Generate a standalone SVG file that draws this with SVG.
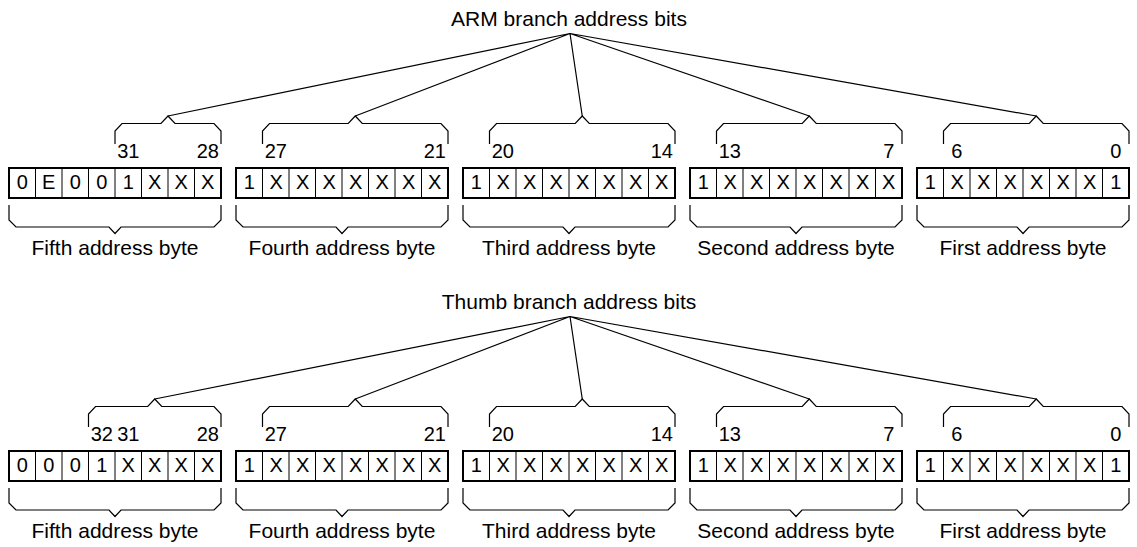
<svg xmlns="http://www.w3.org/2000/svg" xmlns:xlink="http://www.w3.org/1999/xlink" width="1137" height="547" viewBox="0 0 1137 547">
<style>
text{font-family:"Liberation Sans",Arial,sans-serif;fill:#000;text-anchor:middle}
.t{font-size:21px}
.n{font-size:20px}
.c{font-size:20px}
.ln{fill:none;stroke:#000;stroke-width:1.2}
.box{fill:#fff;stroke:#000;stroke-width:2}
.div{fill:none;stroke:#000;stroke-width:1}
</style>
<defs>
<g id="frame">
<rect class="box" x="0" y="0" width="212" height="30"/>
<path class="div" d="M26.5,0V30M53,0V30M79.5,0V30M106,0V30M132.5,0V30M159,0V30M185.5,0V30"/>
<path class="ln" d="M0,37V52L7,59H100L106,65.5L112,59H205L212,52V37"/>
</g>
<path id="brace7" class="ln" d="M26.5,-24V-37L33.5,-44.5H112.25L119.25,-52L126.25,-44.5H205L212,-37V-24"/>
<g id="x7">
<text class="c" x="40.25" y="21">X</text><text class="c" x="66.75" y="21">X</text><text class="c" x="93.25" y="21">X</text><text class="c" x="119.75" y="21">X</text><text class="c" x="146.25" y="21">X</text><text class="c" x="172.75" y="21">X</text>
</g>
</defs>

<g id="connectors">
<path class="ln" d="M570,33.5L168,116M570,33.5L355.25,116M570,33.5L582.25,116M570,33.5L809.25,116M570,33.5L1036.25,116"/>
<path class="ln" d="M570,316.5L154.75,399M570,316.5L355.25,399M570,316.5L582.25,399M570,316.5L809.25,399M570,316.5L1036.25,399"/>
</g>

<g id="arm-title"><text class="t" x="569" y="26">ARM branch address bits</text></g>

<g id="arm-byte5" transform="translate(9,168)">
<use xlink:href="#frame"/>
<path class="ln" d="M106,-24V-37L113,-44.5H152L159,-52L166,-44.5H205L212,-37V-24"/>
<text class="n" x="119.25" y="-10">31</text><text class="n" x="198.75" y="-10">28</text>
<text class="c" x="13.25" y="21">0</text><text class="c" x="39.75" y="21">E</text><text class="c" x="66.25" y="21">0</text><text class="c" x="92.75" y="21">0</text><text class="c" x="119.25" y="21">1</text><text class="c" x="145.75" y="21">X</text><text class="c" x="172.25" y="21">X</text><text class="c" x="198.75" y="21">X</text>
<text class="t" x="106" y="87">Fifth address byte</text>
</g>
<g id="arm-byte4" transform="translate(236,168)">
<use xlink:href="#frame"/><use xlink:href="#brace7"/>
<text class="n" x="39.75" y="-10">27</text><text class="n" x="198.75" y="-10">21</text>
<text class="c" x="13.25" y="21">1</text><use xlink:href="#x7"/><text class="c" x="198.75" y="21">X</text>
<text class="t" x="106" y="87">Fourth address byte</text>
</g>
<g id="arm-byte3" transform="translate(463,168)">
<use xlink:href="#frame"/><use xlink:href="#brace7"/>
<text class="n" x="39.75" y="-10">20</text><text class="n" x="198.75" y="-10">14</text>
<text class="c" x="13.25" y="21">1</text><use xlink:href="#x7"/><text class="c" x="198.75" y="21">X</text>
<text class="t" x="106" y="87">Third address byte</text>
</g>
<g id="arm-byte2" transform="translate(690,168)">
<use xlink:href="#frame"/><use xlink:href="#brace7"/>
<text class="n" x="39.75" y="-10">13</text><text class="n" x="198.75" y="-10">7</text>
<text class="c" x="13.25" y="21">1</text><use xlink:href="#x7"/><text class="c" x="198.75" y="21">X</text>
<text class="t" x="106" y="87">Second address byte</text>
</g>
<g id="arm-byte1" transform="translate(917,168)">
<use xlink:href="#frame"/><use xlink:href="#brace7"/>
<text class="n" x="39.75" y="-10">6</text><text class="n" x="198.75" y="-10">0</text>
<text class="c" x="13.25" y="21">1</text><use xlink:href="#x7"/><text class="c" x="198.75" y="21">1</text>
<text class="t" x="106" y="87">First address byte</text>
</g>

<g id="thumb-title"><text class="t" x="569" y="309">Thumb branch address bits</text></g>

<g id="thumb-byte5" transform="translate(9,451)">
<use xlink:href="#frame"/>
<path class="ln" d="M79.5,-24V-37L86.5,-44.5H138.75L145.75,-52L152.75,-44.5H205L212,-37V-24"/>
<text class="n" x="92.75" y="-10">32</text><text class="n" x="119.25" y="-10">31</text><text class="n" x="198.75" y="-10">28</text>
<text class="c" x="13.25" y="21">0</text><text class="c" x="39.75" y="21">0</text><text class="c" x="66.25" y="21">0</text><text class="c" x="92.75" y="21">1</text><text class="c" x="119.25" y="21">X</text><text class="c" x="145.75" y="21">X</text><text class="c" x="172.25" y="21">X</text><text class="c" x="198.75" y="21">X</text>
<text class="t" x="106" y="87">Fifth address byte</text>
</g>
<g id="thumb-byte4" transform="translate(236,451)">
<use xlink:href="#frame"/><use xlink:href="#brace7"/>
<text class="n" x="39.75" y="-10">27</text><text class="n" x="198.75" y="-10">21</text>
<text class="c" x="13.25" y="21">1</text><use xlink:href="#x7"/><text class="c" x="198.75" y="21">X</text>
<text class="t" x="106" y="87">Fourth address byte</text>
</g>
<g id="thumb-byte3" transform="translate(463,451)">
<use xlink:href="#frame"/><use xlink:href="#brace7"/>
<text class="n" x="39.75" y="-10">20</text><text class="n" x="198.75" y="-10">14</text>
<text class="c" x="13.25" y="21">1</text><use xlink:href="#x7"/><text class="c" x="198.75" y="21">X</text>
<text class="t" x="106" y="87">Third address byte</text>
</g>
<g id="thumb-byte2" transform="translate(690,451)">
<use xlink:href="#frame"/><use xlink:href="#brace7"/>
<text class="n" x="39.75" y="-10">13</text><text class="n" x="198.75" y="-10">7</text>
<text class="c" x="13.25" y="21">1</text><use xlink:href="#x7"/><text class="c" x="198.75" y="21">X</text>
<text class="t" x="106" y="87">Second address byte</text>
</g>
<g id="thumb-byte1" transform="translate(917,451)">
<use xlink:href="#frame"/><use xlink:href="#brace7"/>
<text class="n" x="39.75" y="-10">6</text><text class="n" x="198.75" y="-10">0</text>
<text class="c" x="13.25" y="21">1</text><use xlink:href="#x7"/><text class="c" x="198.75" y="21">1</text>
<text class="t" x="106" y="87">First address byte</text>
</g>
</svg>
